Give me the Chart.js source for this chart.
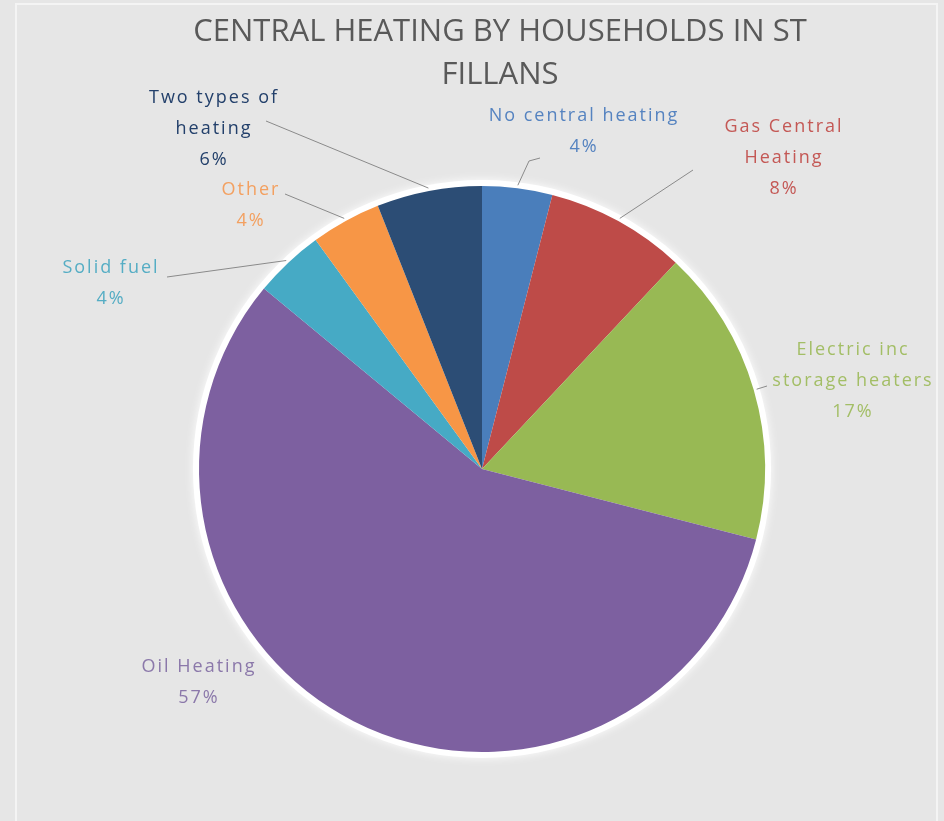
<!DOCTYPE html>
<html>
<head>
<meta charset="utf-8">
<script src="https://cdn.jsdelivr.net/npm/chart.js@4.4.1/dist/chart.umd.min.js"></script>
<style>
    html, body { margin: 0; padding: 0; background: #e6e6e6; }
    #wrap { position: relative; width: 944px; height: 821px; }
</style>
</head>
<body>
<div id="wrap"><canvas id="heatingChart" width="944" height="821"></canvas></div>
<script>
// data (clockwise from 12 o'clock)
const categories = ['No central heating', 'Gas Central Heating', 'Electric inc storage heaters',
    'Oil Heating', 'Solid fuel', 'Other', 'Two types of heating'];
const shares = [4, 8, 17, 57, 4, 4, 6];

const sliceColors = ['#4a7ebb', '#be4b48', '#98b954', '#7d60a0', '#46aac5', '#f79646', '#2c4d75'];
const labelColors = ['#5583c0', '#c45855', '#a3be66', '#8b78aa', '#55adc4', '#f3a060', '#23406b'];

// where each data label sits: first line centre, wrap width, leader start points
const labelLayout = [
    { x: 583, y: 116, wrap: 240, leader: [[540, 158], [529, 161]] },
    { x: 783, y: 127, wrap: 135, leader: [[693, 170]] },
    { x: 852, y: 350, wrap: 180, leader: [[767, 386]] },
    { x: 198, y: 667, wrap: 200, leader: null },
    { x: 110, y: 268, wrap: 150, leader: [[167, 277]] },
    { x: 250, y: 190, wrap: 100, leader: [[285, 194]] },
    { x: 213, y: 98, wrap: 135, leader: [[266, 121]] }
];

const FONT = '"Open Sans", "DejaVu Sans", sans-serif';

function wrapText(ctx, text, maxW) {
    const words = text.split(' ');
    const lines = [];
    let cur = '';
    words.forEach(w => {
        const test = cur ? cur + ' ' + w : w;
        if (ctx.measureText(test).width > maxW && cur) {
            lines.push(cur);
            cur = w;
        } else {
            cur = test;
        }
    });
    if (cur) lines.push(cur);
    return lines;
}

const cardPlugin = {
    id: 'card',
    beforeDraw(chart) {
        const ctx = chart.ctx;
        ctx.save();
        ctx.strokeStyle = '#f4f4f4';
        ctx.lineWidth = 2;
        ctx.strokeRect(16, 4, 921, 830);
        ctx.restore();
    }
};

const glowPlugin = {
    id: 'glow',
    beforeDatasetsDraw(chart) {
        const arc = chart.getDatasetMeta(0).data[0];
        const ctx = chart.ctx;
        ctx.save();
        ctx.fillStyle = '#ffffff';
        ctx.shadowColor = 'rgba(255,255,255,0.95)';
        ctx.shadowBlur = 10;
        ctx.beginPath();
        ctx.arc(arc.x, arc.y, arc.outerRadius + 6, 0, Math.PI * 2);
        ctx.fill();
        ctx.restore();
    }
};

const titlePlugin = {
    id: 'bigTitle',
    afterDraw(chart) {
        const ctx = chart.ctx;
        ctx.save();
        ctx.fillStyle = '#595959';
        ctx.font = '31px ' + FONT;
        ctx.textAlign = 'center';
        ctx.textBaseline = 'middle';
        ctx.fillText('CENTRAL HEATING BY HOUSEHOLDS IN ST', 500, 32);
        ctx.fillText('FILLANS', 500, 75);
        ctx.restore();
    }
};

const labelPlugin = {
    id: 'sliceLabels',
    afterDatasetsDraw(chart) {
        const ctx = chart.ctx;
        const meta = chart.getDatasetMeta(0);
        const total = shares.reduce((a, b) => a + b, 0);
        ctx.save();
        meta.data.forEach((arc, i) => {
            const lay = labelLayout[i];
            // leader line
            if (lay.leader) {
                const mid = (arc.startAngle + arc.endAngle) / 2;
                const r = arc.outerRadius + 3;
                ctx.strokeStyle = '#8a8a8a';
                ctx.lineWidth = 1;
                ctx.beginPath();
                ctx.moveTo(lay.leader[0][0], lay.leader[0][1]);
                lay.leader.slice(1).forEach(p => ctx.lineTo(p[0], p[1]));
                ctx.lineTo(arc.x + r * Math.cos(mid), arc.y + r * Math.sin(mid));
                ctx.stroke();
            }
            // text
            ctx.font = '18px ' + FONT;
            ctx.letterSpacing = '2px';
            ctx.fillStyle = labelColors[i];
            ctx.textAlign = 'center';
            ctx.textBaseline = 'middle';
            const lines = wrapText(ctx, categories[i], lay.wrap);
            lines.push(Math.round(shares[i] / total * 100) + '%');
            lines.forEach((ln, k) => ctx.fillText(ln, lay.x + 1, lay.y + k * 31));
        });
        ctx.restore();
    }
};

new Chart(document.getElementById('heatingChart').getContext('2d'), {
    type: 'pie',
    data: {
        labels: categories,
        datasets: [{
            data: shares,
            backgroundColor: sliceColors,
            borderWidth: 0
        }]
    },
    options: {
        responsive: false,
        animation: false,
        layout: { padding: { top: 186, bottom: 69, left: 199, right: 179 } },
        plugins: {
            legend: { display: false },
            tooltip: { enabled: false }
        }
    },
    plugins: [cardPlugin, glowPlugin, labelPlugin, titlePlugin]
});
</script>
</body>
</html>
